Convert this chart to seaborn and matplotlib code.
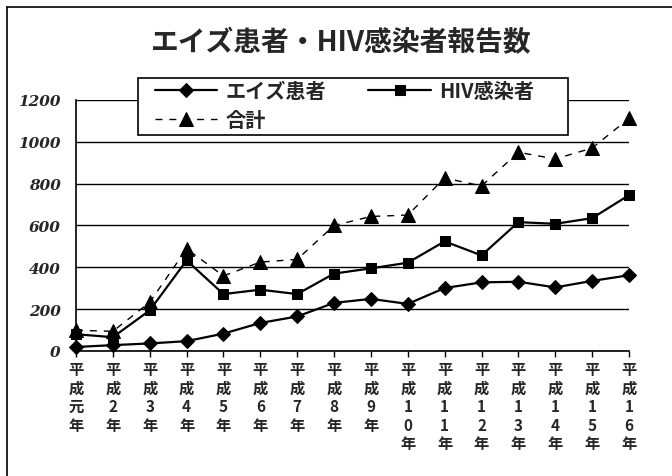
import pandas as pd
import numpy as np
import matplotlib.pyplot as plt
from matplotlib.lines import Line2D
from matplotlib.patches import Rectangle
import seaborn as sns

# Data (reports per year)
years = ['平成元年', '平成2年', '平成3年', '平成4年', '平成5年', '平成6年',
         '平成7年', '平成8年', '平成9年', '平成10年', '平成11年', '平成12年',
         '平成13年', '平成14年', '平成15年', '平成16年']
aids = [19, 28, 36, 47, 83, 134, 165, 230, 249, 225, 301, 328, 331, 304, 335, 362]
hiv = [80, 66, 194, 433, 272, 293, 272, 370, 395, 422, 524, 457, 616, 608, 635, 745]
total = [99, 94, 233, 488, 359, 425, 438, 600, 643, 650, 827, 789, 950, 918, 970, 1112]
yticks = [0, 200, 400, 600, 800, 1000, 1200]

sns.set_theme(style='white')
plt.rcParams['font.family'] = ['Noto Sans CJK JP', 'DejaVu Sans']

# vertical stacked tick labels
xlabels = ['\n'.join(y) for y in years]

fig = plt.figure(figsize=(6.72, 4.77), dpi=100)
ax = fig.add_axes([0.1131, 0.2621, 0.8229, 0.5262])

sns.lineplot(x=xlabels, y=aids, ax=ax, color='black', lw=1.6, marker='D',
             markersize=7, markeredgecolor='black', label='エイズ患者', sort=False)
sns.lineplot(x=xlabels, y=hiv, ax=ax, color='black', lw=1.6, marker='s',
             markersize=7.5, markeredgecolor='black', label='HIV感染者', sort=False)
sns.lineplot(x=xlabels, y=total, ax=ax, color='black', lw=1.0, marker='^',
             markersize=9.5, markeredgecolor='black', label='合計', sort=False,
             linestyle=(0, (5, 5)))

for ln in ax.lines:
    ln.set_clip_on(False)

ax.set_xlim(0, len(years) - 1)
ax.set_ylim(0, 1200)
ax.set_yticks(yticks)
ax.set_xlabel('')
ax.set_ylabel('')

ax.grid(axis='y', color='black', lw=1)
ax.grid(axis='x', visible=False)
for side in ['top', 'right']:
    ax.spines[side].set_visible(False)
for side in ['left', 'bottom']:
    ax.spines[side].set_color('black')
    ax.spines[side].set_linewidth(1.2)

ax.tick_params(axis='y', length=0, pad=11)
ax.tick_params(axis='x', length=4, width=1, color='black', direction='out',
               bottom=True, pad=3)
for lab in ax.get_yticklabels():
    lab.set_fontfamily('DejaVu Serif')
    lab.set_fontstyle('italic')
    lab.set_fontweight('bold')
    lab.set_fontsize(11)
for lab in ax.get_xticklabels():
    lab.set_fontweight('bold')
    lab.set_fontsize(11)
    lab.set_linespacing(1.2)
    lab.set_verticalalignment('top')

# legend: column 1 = エイズ患者, 合計 ; column 2 = HIV感染者
h, l = ax.get_legend_handles_labels()
ax.get_legend().remove()
order = [0, 2, 1]
fig.add_artist(Rectangle((138 / 672, 1 - 136 / 477), 430 / 672, 57 / 477,
                         transform=fig.transFigure, facecolor='white',
                         edgecolor='black', lw=1.2, zorder=4))
fig.legend([h[i] for i in order], [l[i] for i in order], ncol=2,
           loc='upper left', bbox_to_anchor=(153 / 672, 1 - 79 / 477),
           borderaxespad=0, handlelength=3.1, handletextpad=0.4,
           columnspacing=2.1, labelspacing=0.4, borderpad=0.1,
           frameon=False, prop={'weight': 'bold', 'size': 14.5})

fig.text(341 / 672, 1 - 43 / 477, 'エイズ患者・HIV感染者報告数',
         ha='center', va='center', fontsize=20, fontweight='bold')

# outer frame (only top and left edges visible)
fig.add_artist(Line2D([7 / 672, 1], [1 - 8 / 477, 1 - 8 / 477],
                      transform=fig.transFigure, color='black', lw=1.2))
fig.add_artist(Line2D([7 / 672, 7 / 672], [0, 1 - 8 / 477],
                      transform=fig.transFigure, color='black', lw=1.2))

fig.savefig('out.png', dpi=100)
